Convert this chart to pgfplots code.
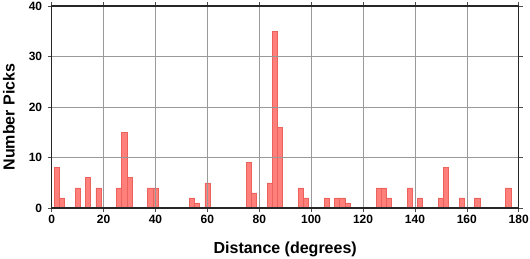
\documentclass[border=0pt]{standalone}
\usepackage{fontspec}
\setmainfont{Liberation Sans}
\usepackage{pgfplots}
\pgfplotsset{compat=1.18}
\definecolor{barfill}{RGB}{255,128,122}
\definecolor{baredge}{RGB}{236,98,92}
\begin{document}
\begin{tikzpicture}
\begin{axis}[
  at={(0pt,0pt)}, anchor=south west,
  scale only axis, width=467pt, height=202pt,
  xmin=0, xmax=180, ymin=0, ymax=40,
  xtick={0,20,...,180}, ytick={0,10,...,40},
  axis on top,
  grid=major,
  major grid style={draw=black!40, line width=0.5pt, /pgfplots/on layer=axis background},
  tick align=outside, major tick length=4pt,
  tick style={draw=black!70, line width=0.6pt},
  axis line style={draw=black!85, line width=1.4pt},
  ybar, bar width=2,
  /pgf/number format/assume math mode=true,
  ticklabel style={font=\fontsize{12}{14}\selectfont\bfseries},
  yticklabel style={xshift=-2pt},
  xlabel={Distance (degrees)}, ylabel={Number Picks},
  label style={font=\fontsize{16}{19}\selectfont\bfseries},
  xlabel style={at={(axis description cs:0.5,0)}, anchor=base, yshift=-45pt},
  ylabel style={at={(axis description cs:-0.0792,0.45)}, anchor=base},
]
\addplot[fill=barfill, draw=baredge, line width=0.5pt] coordinates {
(2,8) (4,2) (10,4) (14,6) (18,4) (26,4) (28,15) (30,6) (38,4) (40,4)
(54,2) (56,1) (60,5) (76,9) (78,3) (84,5) (86,35) (88,16)
(96,4) (98,2) (106,2) (110,2) (112,2) (114,1)
(126,4) (128,4) (130,2) (138,4) (142,2) (150,2) (152,8)
(158,2) (164,2) (176,4)
};
\end{axis}
\pgfresetboundingbox
\path[use as bounding box] (-51.7pt,-50pt) rectangle (478.3pt,208pt);
\end{tikzpicture}
\end{document}
